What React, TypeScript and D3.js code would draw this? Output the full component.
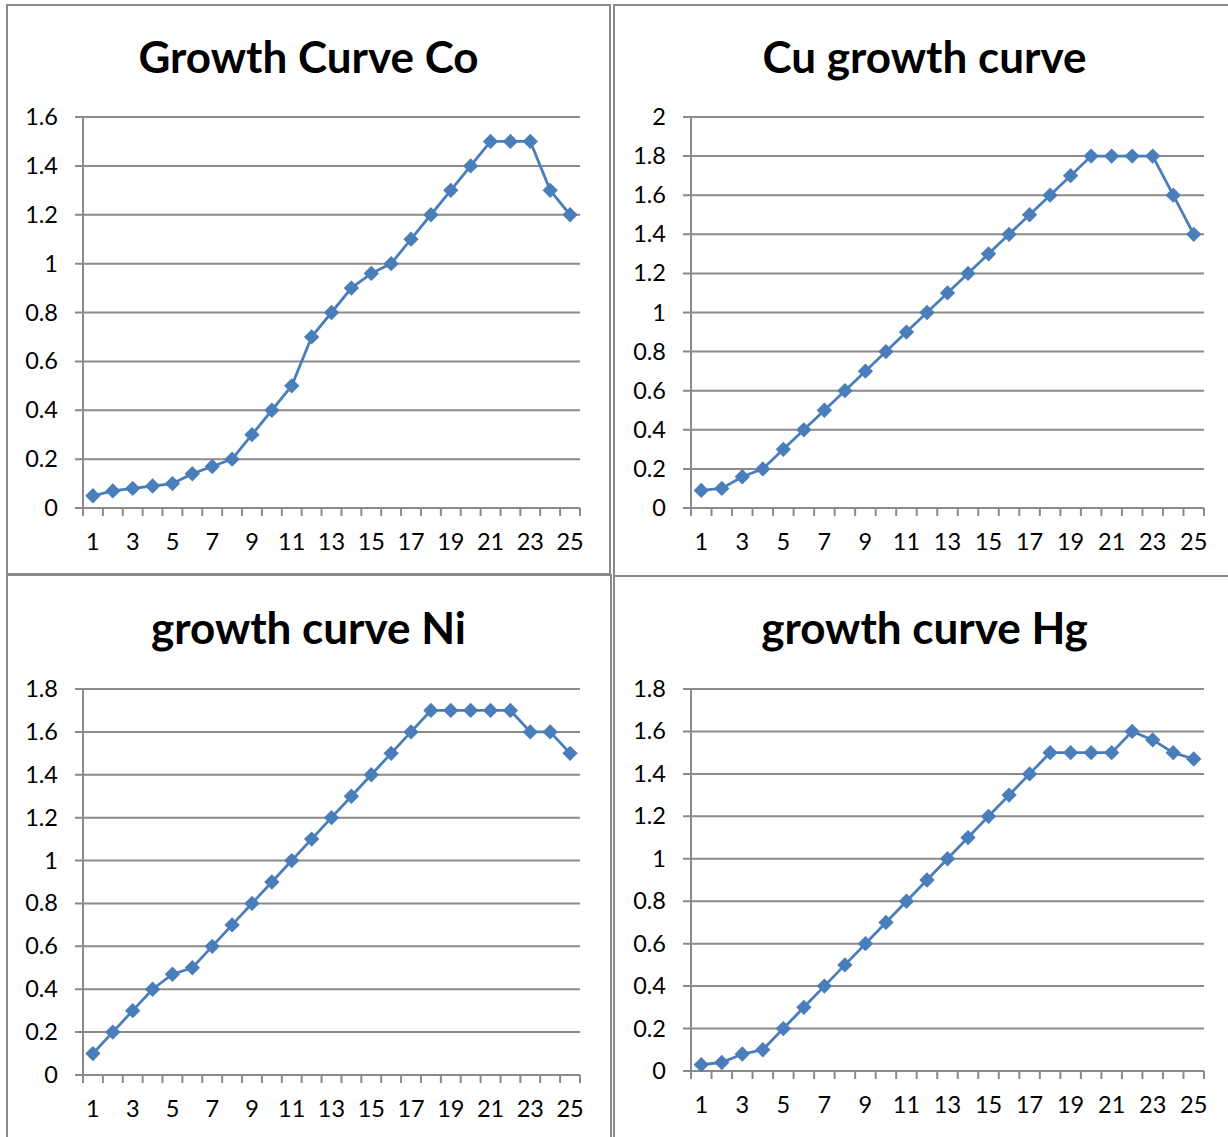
import React from "react";
import * as d3 from "d3";

// days 1..25
const days = d3.range(1, 26).map(String);

const coValues = [0.05, 0.07, 0.08, 0.09, 0.1, 0.14, 0.17, 0.2, 0.3, 0.4, 0.5, 0.7, 0.8, 0.9, 0.96, 1.0, 1.1, 1.2, 1.3, 1.4, 1.5, 1.5, 1.5, 1.3, 1.2];
const cuValues = [0.09, 0.1, 0.16, 0.2, 0.3, 0.4, 0.5, 0.6, 0.7, 0.8, 0.9, 1.0, 1.1, 1.2, 1.3, 1.4, 1.5, 1.6, 1.7, 1.8, 1.8, 1.8, 1.8, 1.6, 1.4];
const niValues = [0.1, 0.2, 0.3, 0.4, 0.47, 0.5, 0.6, 0.7, 0.8, 0.9, 1.0, 1.1, 1.2, 1.3, 1.4, 1.5, 1.6, 1.7, 1.7, 1.7, 1.7, 1.7, 1.6, 1.6, 1.5];
const hgValues = [0.03, 0.04, 0.08, 0.1, 0.2, 0.3, 0.4, 0.5, 0.6, 0.7, 0.8, 0.9, 1.0, 1.1, 1.2, 1.3, 1.4, 1.5, 1.5, 1.5, 1.5, 1.6, 1.56, 1.5, 1.47];

const coTicks = [0, 0.2, 0.4, 0.6, 0.8, 1, 1.2, 1.4, 1.6];
const cuTicks = [0, 0.2, 0.4, 0.6, 0.8, 1, 1.2, 1.4, 1.6, 1.8, 2];
const niTicks = [0, 0.2, 0.4, 0.6, 0.8, 1, 1.2, 1.4, 1.6, 1.8];
const hgTicks = [0, 0.2, 0.4, 0.6, 0.8, 1, 1.2, 1.4, 1.6, 1.8];

const titles = ["Growth Curve Co", "Cu growth curve", "growth curve Ni", "growth curve Hg"];

const LINE = "#4a7ebb";
const GRID = "#8a8a8a";
const FONT = "Lato, 'Open Sans', sans-serif";

interface Panel {
  title: string;
  values: number[];
  ticks: number[];
  box: { x: number; y: number; w: number; h: number };
  plot: { x0: number; x1: number; yTop: number; yBottom: number };
  titleY: number;
}

const panels: Panel[] = [
  { title: titles[0], values: coValues, ticks: coTicks, box: { x: 7, y: 5, w: 603, h: 569 }, plot: { x0: 83, x1: 580, yTop: 117, yBottom: 508 }, titleY: 73 },
  { title: titles[1], values: cuValues, ticks: cuTicks, box: { x: 614, y: 5, w: 620, h: 572 }, plot: { x0: 691, x1: 1204, yTop: 117, yBottom: 508 }, titleY: 73 },
  { title: titles[2], values: niValues, ticks: niTicks, box: { x: 7, y: 575, w: 604, h: 600 }, plot: { x0: 83, x1: 580, yTop: 689, yBottom: 1075 }, titleY: 644 },
  { title: titles[3], values: hgValues, ticks: hgTicks, box: { x: 614, y: 576, w: 620, h: 600 }, plot: { x0: 691, x1: 1204, yTop: 689, yBottom: 1071 }, titleY: 644 },
];

const ChartPanel = ({ p }: { p: Panel }) => {
  const { x0, x1, yTop, yBottom } = p.plot;
  const x = d3.scaleBand<string>().domain(days).range([x0, x1]).padding(0);
  const yMax = p.ticks[p.ticks.length - 1];
  const y = d3.scaleLinear().domain([0, yMax]).range([yBottom, yTop]);
  const cx = (d: string) => (x(d) as number) + x.bandwidth() / 2;
  const line = d3
    .line<number>()
    .x((_, i) => cx(days[i]))
    .y((v) => y(v));
  const diamond = d3.symbol().type(d3.symbolDiamond2).size(150)();
  const boundaries = d3.range(0, days.length + 1).map((i) => x0 + i * x.bandwidth());

  return (
    <g>
      <rect x={p.box.x} y={p.box.y} width={p.box.w} height={p.box.h} fill="white" stroke={GRID} strokeWidth={2} />
      <text x={(x0 + x1) / 2 - 23} y={p.titleY} textAnchor="middle" fontFamily={FONT} fontWeight="bold" fontSize={44} fill="#000">
        {p.title}
      </text>
      {p.ticks.map((t) => (
        <g key={t}>
          <line x1={x0 - 8} x2={x1} y1={y(t)} y2={y(t)} stroke={GRID} strokeWidth={2} />
          <text x={x0 - 25} y={y(t) + 8} textAnchor="end" fontFamily={FONT} fontSize={23.5} fill="#000">
            {t}
          </text>
        </g>
      ))}
      <line x1={x0} x2={x0} y1={yTop} y2={yBottom} stroke={GRID} strokeWidth={2} />
      {boundaries.map((b, i) => (
        <line key={i} x1={b} x2={b} y1={yBottom} y2={yBottom + 8} stroke={GRID} strokeWidth={2} />
      ))}
      {days.map((d, i) =>
        i % 2 === 0 ? (
          <text key={d} x={cx(d)} y={yBottom + 42} textAnchor="middle" fontFamily={FONT} fontSize={23.5} fill="#000">
            {d}
          </text>
        ) : null
      )}
      <path d={line(p.values) || ""} fill="none" stroke={LINE} strokeWidth={2.8} />
      {p.values.map((v, i) => (
        <path key={i} d={diamond || ""} transform={`translate(${cx(days[i])},${y(v)})`} fill={LINE} />
      ))}
    </g>
  );
};

export default function App() {
  return (
    <svg width={1228} height={1137} style={{ position: "absolute", left: 0, top: 0, background: "white" }}>
      {panels.map((p, i) => (
        <ChartPanel key={i} p={p} />
      ))}
    </svg>
  );
}
